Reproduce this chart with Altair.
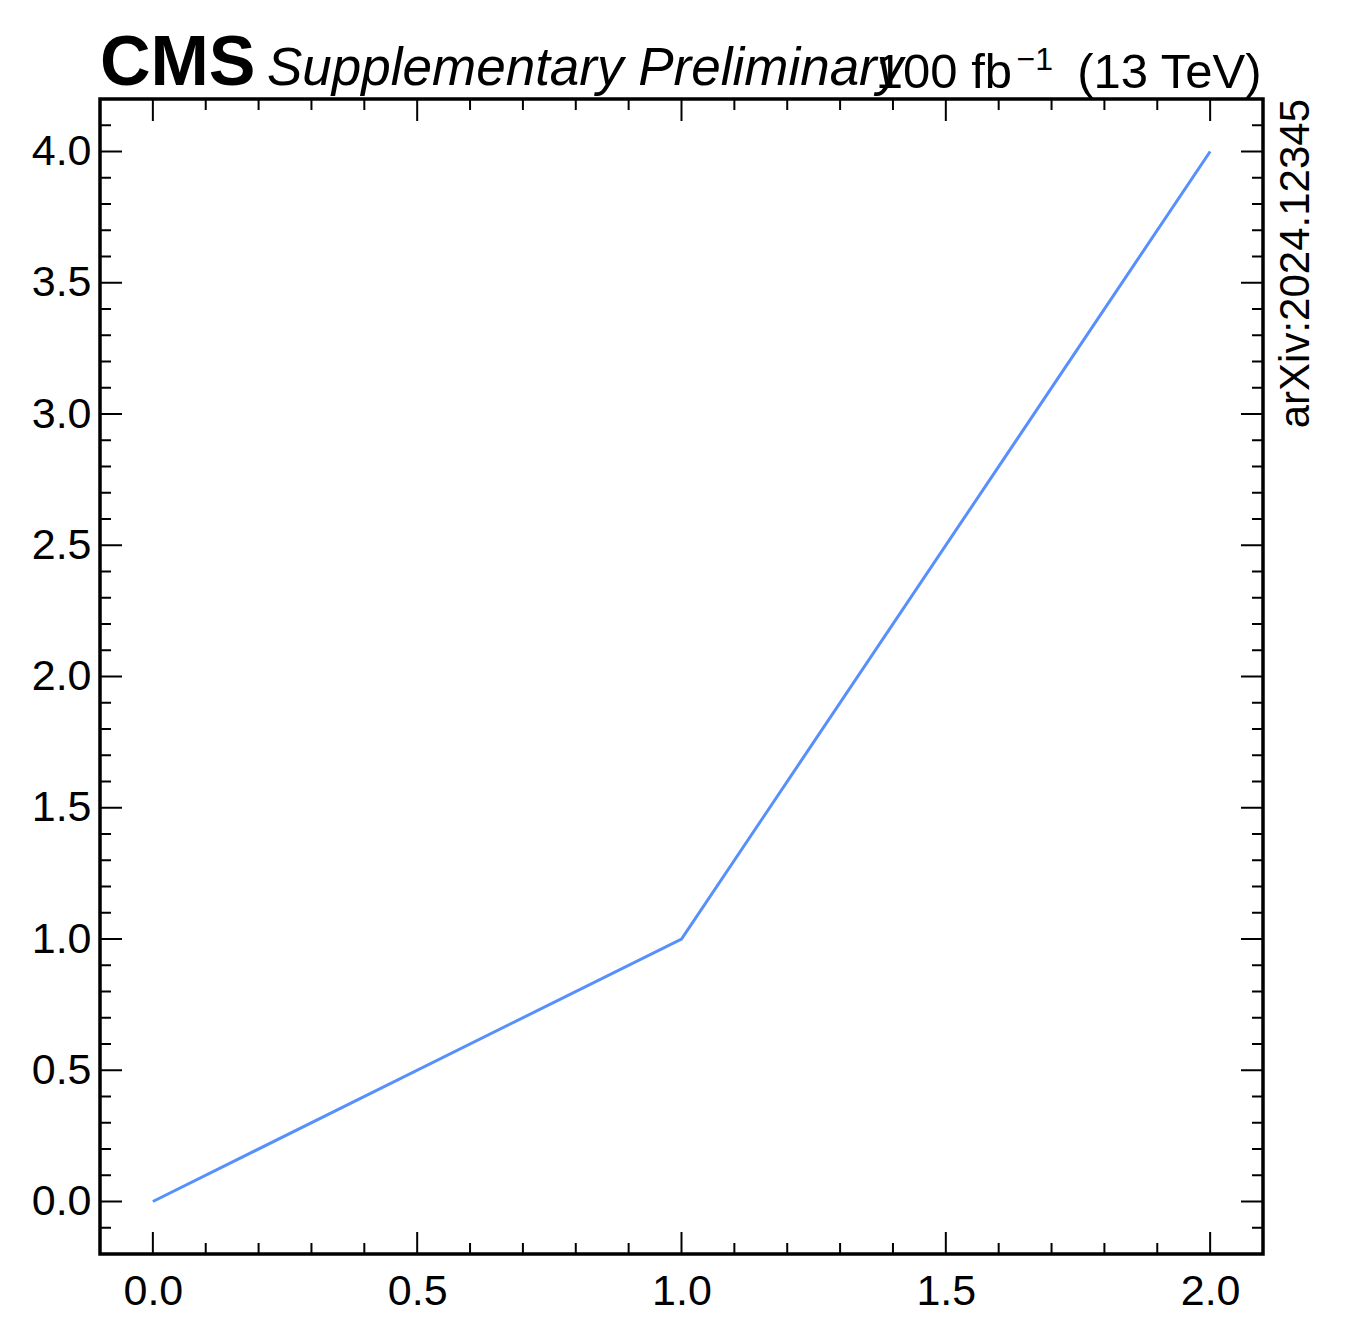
import altair as alt
import pandas as pd

# ---- data ----
x_values = [0.0, 1.0, 2.0]
y_values = [0.0, 1.0, 4.0]

x_major_ticks = [0.0, 0.5, 1.0, 1.5, 2.0]
x_minor_ticks = [0.1, 0.2, 0.3, 0.4, 0.6, 0.7, 0.8, 0.9,
                 1.1, 1.2, 1.3, 1.4, 1.6, 1.7, 1.8, 1.9]
y_major_ticks = [0.0, 0.5, 1.0, 1.5, 2.0, 2.5, 3.0, 3.5, 4.0]
y_minor_ticks = [-0.1, 0.1, 0.2, 0.3, 0.4, 0.6, 0.7, 0.8, 0.9,
                 1.1, 1.2, 1.3, 1.4, 1.6, 1.7, 1.8, 1.9,
                 2.1, 2.2, 2.3, 2.4, 2.6, 2.7, 2.8, 2.9,
                 3.1, 3.2, 3.3, 3.4, 3.6, 3.7, 3.8, 3.9, 4.1]

x_domain = [-0.1, 2.1]
y_domain = [-0.2, 4.2]

cms_label = ["CMS"]
extra_label = ["Supplementary Preliminary"]
lumi_value = ["100 fb"]
lumi_exponent = ["\u22121"]
lumi_energy = ["(13 TeV)"]
arxiv_label = ["arXiv:2024.12345"]

# ---- layout / style ----
W, H = 1163, 1155
MAJ, MIN = 22, 11
FONT = "Liberation Sans"
LINE_COLOR = "#5790fc"

xs = alt.Scale(domain=x_domain, nice=False, zero=False)
ys = alt.Scale(domain=y_domain, nice=False, zero=False)

x_axis = alt.Axis(values=x_major_ticks, format=".1f", ticks=False, tickSize=0,
                  domain=False, grid=False, labelFontSize=43, labelFont=FONT,
                  labelColor="black", labelPadding=16, labelFlush=False)
y_axis = alt.Axis(values=y_major_ticks, format=".1f", ticks=False, tickSize=0,
                  domain=False, grid=False, labelFontSize=43, labelFont=FONT,
                  labelColor="black", labelPadding=9)


def X(field):
    return alt.X(field, type="quantitative", scale=xs, axis=x_axis, title=None)


def Y(field):
    return alt.Y(field, type="quantitative", scale=ys, axis=y_axis, title=None)


line_df = pd.DataFrame({"x": x_values, "y": y_values})
line = alt.Chart(line_df).mark_line(color=LINE_COLOR, strokeWidth=3).encode(
    x=X("x"), y=Y("y")
)

layers = [line]


def xticks(vals, length):
    df = pd.DataFrame({"v": vals})
    base = alt.Chart(df).mark_rule(color="black", strokeWidth=2)
    return [
        base.encode(x=X("v"), y=alt.value(H), y2=alt.value(H - length)),
        base.encode(x=X("v"), y=alt.value(0), y2=alt.value(length)),
    ]


def yticks(vals, length):
    df = pd.DataFrame({"v": vals})
    base = alt.Chart(df).mark_rule(color="black", strokeWidth=2)
    return [
        base.encode(y=Y("v"), x=alt.value(0), x2=alt.value(length)),
        base.encode(y=Y("v"), x=alt.value(W), x2=alt.value(W - length)),
    ]


layers += xticks(x_major_ticks, MAJ)
layers += xticks(x_minor_ticks, MIN)
layers += yticks(y_major_ticks, MAJ)
layers += yticks(y_minor_ticks, MIN)


def label(texts, x, y, size, **kw):
    return alt.Chart(pd.DataFrame({"t": texts})).mark_text(
        font=FONT, fontSize=size, baseline="alphabetic", color="black", **kw
    ).encode(text="t", x=alt.value(x), y=alt.value(y))


cms = label(cms_label, 0, -14, 70, fontWeight="bold", align="left")
extra = label(extra_label, 167, -14, 53, fontStyle="italic", align="left")
lumi1 = label(lumi_value, W - 251, -11, 49, align="right")
lumi2 = label(lumi_exponent, W - 210, -29, 32, align="right")
lumi3 = label(lumi_energy, W - 1.5, -11, 49, align="right")
arxiv = label(arxiv_label, W + 46, 0, 42, align="right", angle=270)

layers += [cms, extra, lumi1, lumi2, lumi3, arxiv]

chart = alt.layer(*layers).properties(
    width=W, height=H,
    autosize=alt.AutoSizeParams(type="none"),
    padding={"left": 92, "top": 91, "right": 60, "bottom": 70},
    background="white",
).configure_view(stroke="black", strokeWidth=3.5)

chart.save("out.html", embed_options={"renderer": "svg", "actions": False})
